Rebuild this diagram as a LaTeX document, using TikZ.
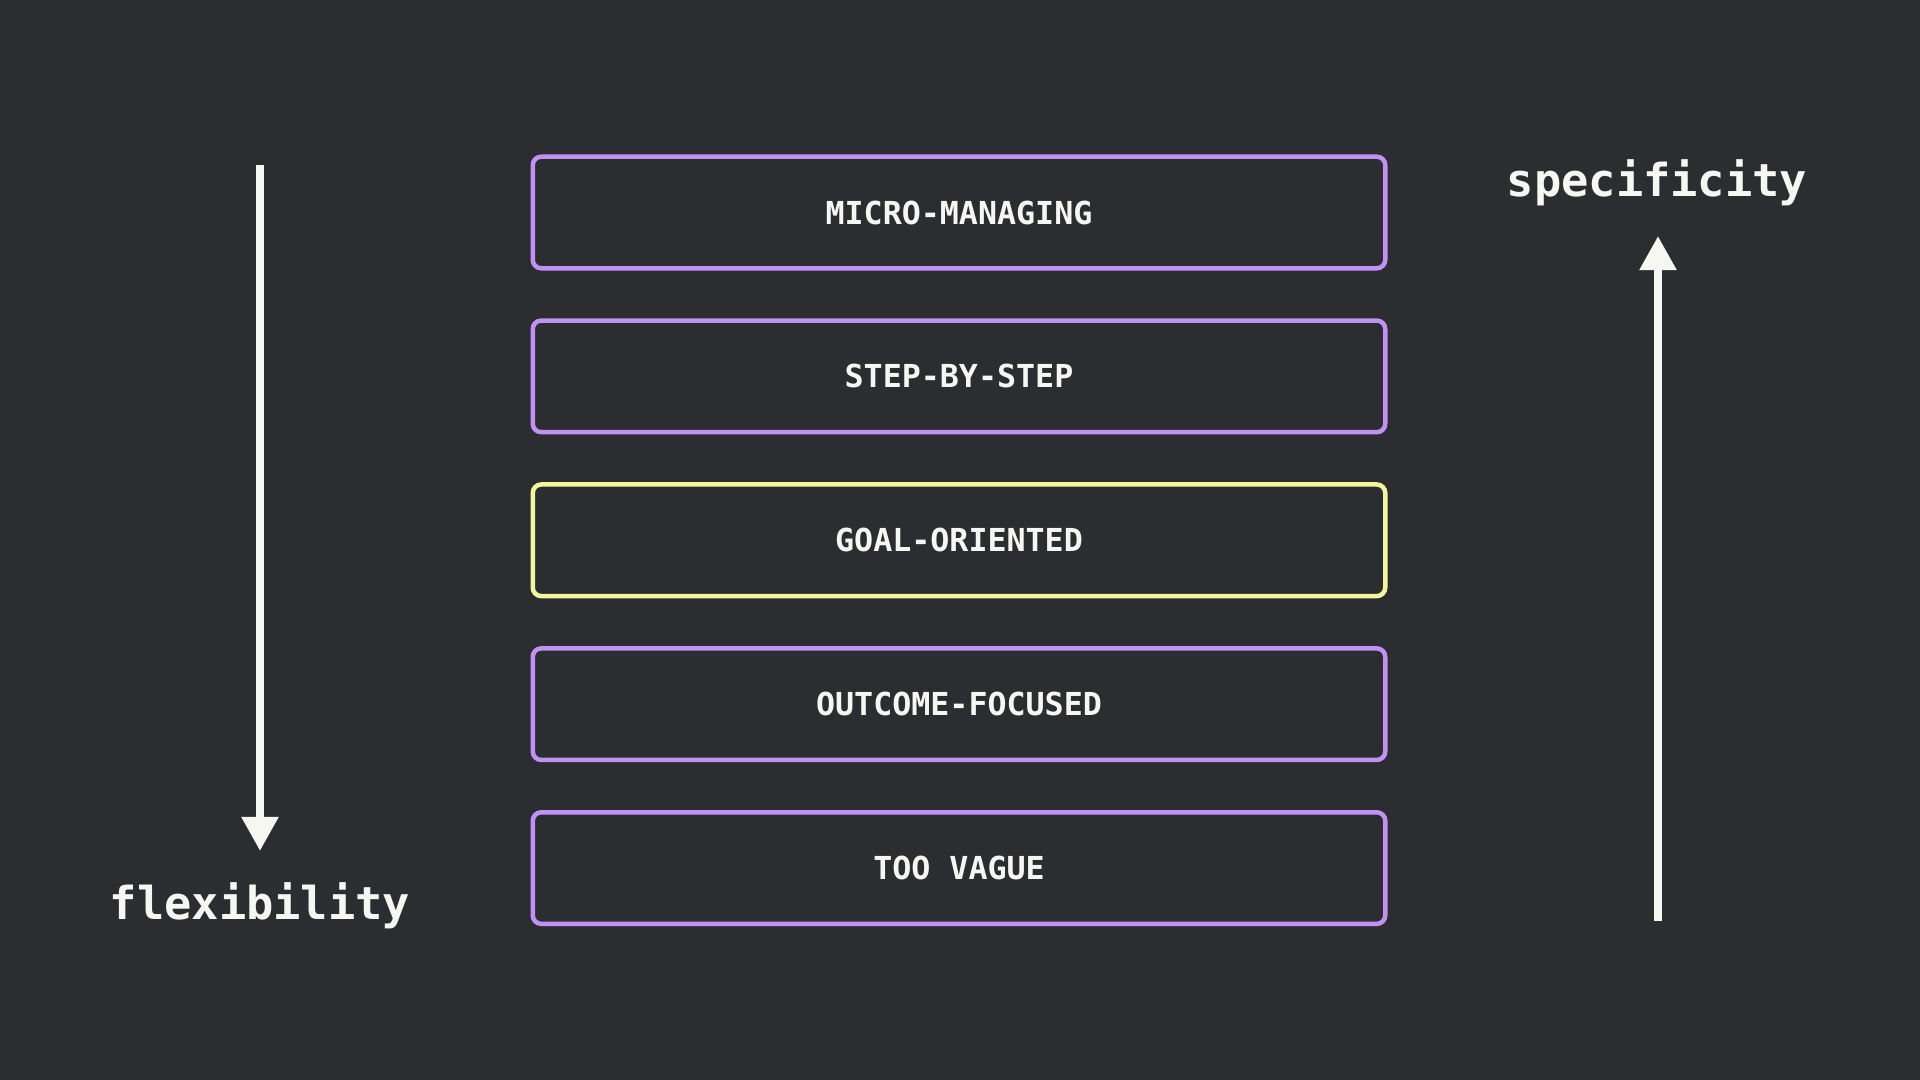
\documentclass[tikz,border=0pt]{standalone}
\usepackage{fontspec}
\setmonofont{DejaVu Sans Mono}
\usetikzlibrary{arrows.meta,positioning}
\definecolor{bgdark}{HTML}{2C2D31}
\definecolor{lilac}{HTML}{C192F4}
\definecolor{lemon}{HTML}{F3F69A}
\definecolor{chalk}{HTML}{F7F7F2}

\begin{document}
\begin{tikzpicture}[x=0.01cm,y=-0.01cm,>={Triangle[width=10pt,length=9.7pt]},
        node distance=0.478cm,
        level/.style={draw=lilac,line width=1.28pt,rounded corners=2.4pt,
            minimum width=8.52cm,minimum height=1.115cm,inner sep=0pt,
            text=chalk,font=\ttfamily\bfseries\fontsize{9}{11}\selectfont},
        chosen/.style={level,draw=lemon},
        axislabel/.style={text=chalk,font=\ttfamily\bfseries\fontsize{12.9}{15}\selectfont},
        axis/.style={->,draw=chalk,fill=chalk,line width=2.3pt}]

    \fill[bgdark] (0,0) rectangle (1920,1080);

    \node[level] (micro) at (959,212.5) {MICRO-MANAGING};
    \node[level] (step) [below=of micro] {STEP-BY-STEP};
    \node[chosen] (goal) [below=of step] {GOAL-ORIENTED};
    \node[level] (outcome) [below=of goal] {OUTCOME-FOCUSED};
    \node[level] (vague) [below=of outcome] {TOO VAGUE};

    \node[axislabel] (flex) at (260,906) {flexibility};
    \node[axislabel] (spec) at (1657,183) {specificity};

    \coordinate (flextop) at (260,165);
    \coordinate (flextip) at (260,851);
    \coordinate (specbot) at (1658,921);
    \coordinate (spectip) at (1658,236);

    \draw[axis] (flextop) -- (flextip);
    \draw[axis] (specbot) -- (spectip);

\end{tikzpicture}
\end{document}
